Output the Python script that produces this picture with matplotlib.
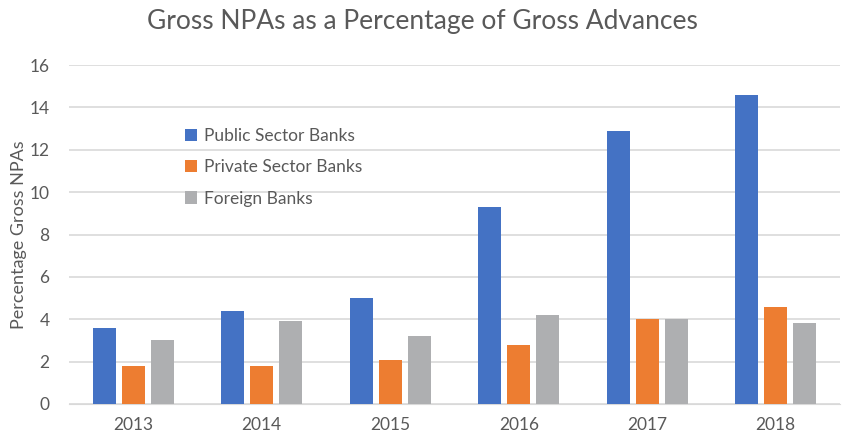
import numpy as np
import matplotlib
matplotlib.use('Agg')
import matplotlib.pyplot as plt

# data
years = ['2013', '2014', '2015', '2016', '2017', '2018']
public_banks = [3.6, 4.4, 5.0, 9.3, 12.9, 14.6]
private_banks = [1.8, 1.8, 2.1, 2.8, 4.0, 4.6]
foreign_banks = [3.0, 3.9, 3.2, 4.2, 4.0, 3.8]

plt.rcParams['font.family'] = ['Lato', 'DejaVu Sans']
text_col = '#595959'

fig = plt.figure(figsize=(8.44, 4.38), dpi=100)
ax = fig.add_axes([69 / 844, 1 - 404 / 438, 771 / 844, 339 / 438])

x = np.arange(len(years))
w = 0.18
step = 0.225
ax.bar(x - step, public_banks, w, color='#4472C4', label='Public Sector Banks', zorder=3)
ax.bar(x, private_banks, w, color='#ED7D31', label='Private Sector Banks', zorder=3)
ax.bar(x + step, foreign_banks, w, color='#AEAFB1', label='Foreign Banks', zorder=3)

ax.set_xlim(-0.5, len(years) - 0.5)
ax.set_ylim(0, 16)
ax.set_yticks(range(0, 17, 2))
ax.set_xticks(x)
ax.set_xticklabels(years)
ax.yaxis.grid(True, color='#D9D9D9', linewidth=1.2, zorder=0)
for s in ax.spines.values():
    s.set_visible(False)
ax.spines['bottom'].set_visible(True)
ax.spines['bottom'].set_color('#D9D9D9')
ax.tick_params(length=0, labelsize=12.5, colors=text_col, pad=9)
ax.tick_params(axis='y', pad=14)

ax.set_ylabel('Percentage Gross NPAs', fontsize=13, color=text_col, labelpad=2)
fig.text(0.5, 0.952, 'Gross NPAs as a Percentage of Gross Advances',
         ha='center', va='center', fontsize=19, color=text_col)

leg = ax.legend(loc='upper left', bbox_to_anchor=(0.13, 0.86), frameon=False,
                fontsize=12.5, handlelength=0.7, handleheight=0.7,
                handletextpad=0.4, labelspacing=0.88)
for t in leg.get_texts():
    t.set_color(text_col)

fig.savefig('out.png', dpi=100)
